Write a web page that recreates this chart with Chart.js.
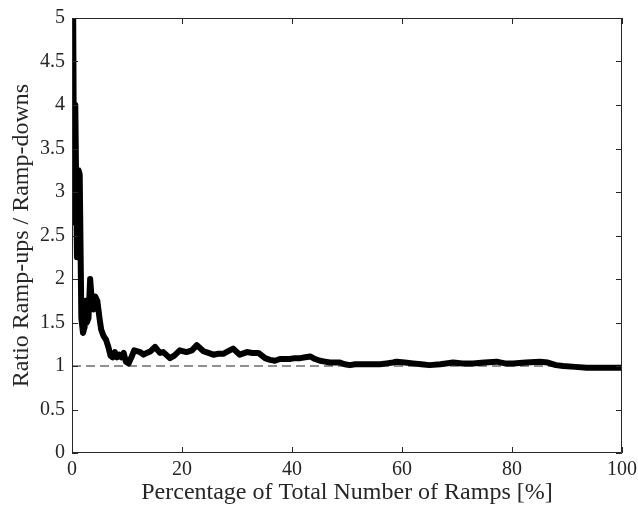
<!DOCTYPE html>
<html>
<head>
<meta charset="utf-8">
<script src="https://cdn.jsdelivr.net/npm/chart.js@4/dist/chart.umd.min.js"></script>
<style>
  html, body { margin: 0; padding: 0; background: #fff; }
  #wrap { width: 638px; height: 508px; }
</style>
</head>
<body>
<div id="wrap"><canvas id="myChart" width="638" height="508"></canvas></div>
<script>
// percentage of total number of ramps
const percentRamps = [
  0.1, 0.4, 0.6, 0.9, 1.2, 1.4, 1.7, 2.0, 2.3, 2.5, 2.7, 3.0, 3.3, 3.6, 3.9,
  4.2, 4.6, 5.0, 5.3, 5.7, 6.2, 6.6, 7.0, 7.4, 7.8, 8.2, 8.6, 9.0, 9.4, 9.8,
  10.3, 10.8, 11.3, 11.8, 12.4, 13.0, 13.6, 14.3, 15.1, 16.0, 16.6, 17.8, 18.6, 19.6, 20.8,
  21.8, 22.7, 23.9, 24.8, 25.7, 26.6, 27.5, 28.4, 29.3, 30.5, 31.8, 32.8, 33.9, 35.1, 36.0,
  36.9, 37.8, 38.7, 39.6, 40.5, 41.5, 42.4, 43.3, 44.2, 45.1, 46.0, 46.9, 47.8, 48.7, 49.6,
  50.5, 51.5, 52.4, 53.6, 54.7, 56.0, 57.2, 58.4, 59.0, 60.5, 62.0, 63.5, 65.0, 67.0, 69.3,
  71.0, 72.9, 75.0, 77.2, 78.7, 80.2, 82.5, 85.1, 86.5, 88.0, 89.3, 91.5, 93.6, 96.0, 98.4, 100
];

// ratio ramp-ups / ramp-downs
const ratioUpDown = [
  6.5, 2.65, 4.0, 2.25, 3.25, 3.2, 1.55, 1.38, 1.45, 1.75, 1.5, 1.55, 2.0, 1.75, 1.65,
  1.8, 1.75, 1.55, 1.42, 1.35, 1.3, 1.22, 1.12, 1.1, 1.16, 1.1, 1.13, 1.1, 1.15, 1.05,
  1.03, 1.1, 1.18, 1.17, 1.16, 1.13, 1.15, 1.17, 1.22, 1.15, 1.16, 1.09, 1.12, 1.18, 1.16,
  1.18, 1.24, 1.17, 1.15, 1.13, 1.14, 1.14, 1.17, 1.2, 1.13, 1.16, 1.15, 1.15, 1.09, 1.07,
  1.06, 1.08, 1.08, 1.08, 1.09, 1.09, 1.1, 1.11, 1.08, 1.06, 1.05, 1.04, 1.04, 1.04, 1.02,
  1.01, 1.02, 1.02, 1.02, 1.02, 1.02, 1.03, 1.04, 1.05, 1.04, 1.03, 1.02, 1.01, 1.02, 1.04,
  1.03, 1.03, 1.04, 1.05, 1.03, 1.03, 1.04, 1.05, 1.04, 1.01, 1.0, 0.99, 0.98, 0.98, 0.98, 0.98
];

// reference line (ratio = 1)
const refX = [0, 100];
const refY = [1, 1];

const xTicks = [0, 20, 40, 60, 80, 100];
const yTicks = [0, 0.5, 1, 1.5, 2, 2.5, 3, 3.5, 4, 4.5, 5];

const axisColor = "#262626";
const serif = "'Liberation Serif', 'DejaVu Serif', serif";

// box round the axes with inward ticks on all four sides, MATLAB style
const boxTicks = {
  id: "boxTicks",
  afterDraw(chart) {
    const { ctx, chartArea: a, scales } = chart;
    const len = 6;
    ctx.save();
    ctx.strokeStyle = axisColor;
    ctx.lineWidth = 1;
    ctx.beginPath();
    ctx.rect(a.left + 0.5, a.top + 0.5, a.right - a.left - 1, a.bottom - a.top - 1);
    xTicks.forEach((v) => {
      const px = Math.round(scales.x.getPixelForValue(v)) + 0.5;
      ctx.moveTo(px, a.bottom);
      ctx.lineTo(px, a.bottom - len);
      ctx.moveTo(px, a.top);
      ctx.lineTo(px, a.top + len);
    });
    yTicks.forEach((v) => {
      const py = Math.round(scales.y.getPixelForValue(v)) + 0.5;
      ctx.moveTo(a.left, py);
      ctx.lineTo(a.left + len, py);
      ctx.moveTo(a.right, py);
      ctx.lineTo(a.right - len, py);
    });
    ctx.stroke();
    ctx.restore();
  },
};

const config = {
  type: "line",
  data: {
    datasets: [
      {
        label: "Ratio",
        data: percentRamps.map((x, i) => ({ x: x, y: ratioUpDown[i] })),
        borderColor: "#000",
        borderWidth: 6,
        pointRadius: 0,
        tension: 0,
        borderJoinStyle: "round",
        borderCapStyle: "round",
      },
      {
        label: "Unity",
        data: refX.map((x, i) => ({ x: x, y: refY[i] })),
        borderColor: "#222",
        borderWidth: 1.2,
        borderDash: [9, 5],
        pointRadius: 0,
      },
    ],
  },
  options: {
    responsive: false,
    animation: false,
    layout: { padding: { left: 0, top: 18, right: 16, bottom: 0 } },
    plugins: {
      legend: { display: false },
      tooltip: { enabled: false },
    },
    scales: {
      x: {
        type: "linear",
        min: 0,
        max: 100,
        afterBuildTicks: (s) => { s.ticks = xTicks.map((v) => ({ value: v })); },
        afterFit: (s) => {
          s.height = 55;
          s.paddingLeft = 0;
          s.paddingRight = 0;
        },
        grid: { display: false, drawTicks: false },
        border: { display: false },
        ticks: {
          padding: 5,
          color: axisColor,
          font: { family: serif, size: 20 },
          callback: (v) => String(v),
        },
        title: {
          display: true,
          text: "Percentage of Total Number of Ramps [%]",
          color: axisColor,
          padding: { top: 0, bottom: 1 },
          font: { family: serif, size: 24 },
        },
      },
      y: {
        type: "linear",
        min: 0,
        max: 5,
        afterBuildTicks: (s) => { s.ticks = yTicks.map((v) => ({ value: v })); },
        afterFit: (s) => {
          s.width = 72;
          s.paddingTop = 0;
          s.paddingBottom = 0;
        },
        grid: { display: false, drawTicks: false },
        border: { display: false },
        ticks: {
          padding: 7,
          color: axisColor,
          font: { family: serif, size: 20 },
          callback: (v) => String(v),
        },
        title: {
          display: true,
          text: "Ratio Ramp-ups / Ramp-downs",
          color: axisColor,
          padding: { top: 7, bottom: 0 },
          font: { family: serif, size: 24 },
        },
      },
    },
  },
  plugins: [boxTicks],
};

const myChart = new Chart(document.getElementById("myChart").getContext("2d"), config);
</script>
</body>
</html>
